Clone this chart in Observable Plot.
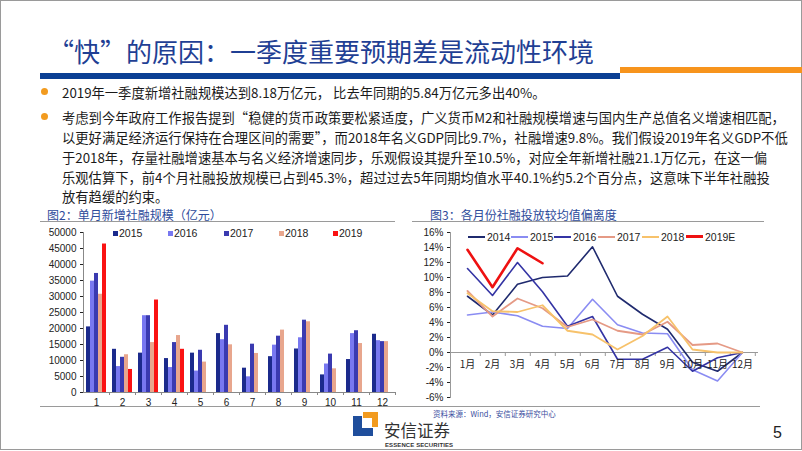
<!DOCTYPE html>
<html><head><meta charset="utf-8">
<script src="https://cdn.jsdelivr.net/npm/d3@7"></script>
<script src="https://cdn.jsdelivr.net/npm/@observablehq/plot@0.6"></script>
<style>
html,body{margin:0;padding:0;background:#fff;}
#slide{position:relative;width:802px;height:451px;overflow:hidden;font-family:"Noto Sans CJK SC","Noto Sans",sans-serif;background:#fff;}
.abs{position:absolute;white-space:nowrap;}
.border{position:absolute;left:0;top:0;width:800px;height:448px;border:1px solid #9a9a9a;}
.body{font-size:13.3px;color:#1a1a1a;line-height:15px;left:62px;}
.dot{position:absolute;width:7px;height:7px;border-radius:50%;background:#f29b1f;left:41px;}
.ftitle{font-size:12px;color:#2d4b9b;line-height:13px;}
.leg{font-family:"Liberation Sans",Arial,sans-serif;font-size:10.5px;color:#222;line-height:12px;}
.sq{position:absolute;width:5px;height:5px;}
.ln{position:absolute;height:2px;width:17px;}
</style></head>
<body>
<div id="slide">
  <div class="border"></div>
  <div class="abs" style="left:48px;top:33px;font-size:26px;line-height:36px;color:#1f3f94;">“快”的原因：一季度重要预期差是流动性环境</div>
  <div class="abs" style="left:40px;top:73px;width:580px;height:6px;background:#0b3f94;"></div>
  <div class="abs" style="left:620px;top:67px;width:182px;height:6px;background:#f7941d;"></div>

  <div class="dot" style="top:88px;"></div>
  <div class="abs body" style="top:84.5px;">2019年一季度新增社融规模达到8.18万亿元，  比去年同期的5.84万亿元多出40%。</div>
  <div class="dot" style="top:113px;"></div>
  <div class="abs body" style="top:109.5px;">考虑到今年政府工作报告提到“稳健的货币政策要松紧适度，广义货币M2和社融规模增速与国内生产总值名义增速相匹配，</div>
  <div class="abs body" style="top:129.5px;">以更好满足经济运行保持在合理区间的需要”，而2018年名义GDP同比9.7%，社融增速9.8%。我们假设2019年名义GDP不低</div>
  <div class="abs body" style="top:149.5px;">于2018年，存量社融增速基本与名义经济增速同步，乐观假设其提升至10.5%，对应全年新增社融21.1万亿元，在这一偏</div>
  <div class="abs body" style="top:169.5px;">乐观估算下，前4个月社融投放规模已占到45.3%，超过过去5年同期均值水平40.1%约5.2个百分点，这意味下半年社融投</div>
  <div class="abs body" style="top:188.5px;">放有趋缓的约束。</div>

  <div class="abs ftitle" style="left:47px;top:208px;">图2：单月新增社融规模（亿元）</div>
  <div class="abs" style="left:40px;top:221px;width:355px;height:1px;background:#9a9a9a;"></div>
  <div class="abs ftitle" style="left:430px;top:208px;">图3：各月份社融投放较均值偏离度</div>
  <div class="abs" style="left:412px;top:221px;width:352px;height:1px;background:#9a9a9a;"></div>

  <div id="chart1" class="abs" style="left:40px;top:222px;"></div>
  <div id="chart2" class="abs" style="left:400px;top:222px;"></div>
  <div id="leg1"></div>
  <div id="leg2"></div>

  <div class="abs" style="left:40px;top:406px;width:720px;height:1px;background:#9a9a9a;"></div>
  <div class="abs" style="left:353px;top:416px;width:9px;height:20px;background:#1f4e9c;"></div>
  <div class="abs" style="left:353px;top:428px;width:20px;height:8px;background:#1f4e9c;"></div>
  <div class="abs" style="left:363px;top:412px;width:15px;height:6px;background:#f29b1f;"></div>
  <div class="abs" style="left:372px;top:412px;width:6px;height:15px;background:#f29b1f;"></div>
  <div class="abs" style="left:384px;top:422.5px;font-size:16.5px;line-height:15px;color:#333;">安信证券</div>
  <div class="abs" style="left:385px;top:441.5px;font-family:'Liberation Sans',Arial,sans-serif;font-size:6px;line-height:7px;color:#333;font-weight:bold;letter-spacing:0.1px;">ESSENCE SECURITIES</div>
  <div class="abs" style="left:433px;top:408.5px;font-size:7.5px;line-height:9px;color:#3a4ea0;">资料来源：Wind，安信证券研究中心</div>
  <div class="abs" style="left:773px;top:423px;font-family:'Liberation Sans',Arial,sans-serif;font-size:16px;line-height:20px;color:#222;">5</div>
</div>
<script>
// ---- Chart 1: monthly new social financing (100 million yuan)
const months = ["1","2","3","4","5","6","7","8","9","10","11","12"];
const barYears = ["2015","2016","2017","2018","2019"];
const bars2015 = [20500, 13500, 12300, 10600, 12300, 18400, 7600, 11200, 13600, 5500, 10300, 18200];
const bars2016 = [34800, 8100, 24000, 7800, 6700, 16500, 4900, 14800, 17100, 8900, 18400, 16200];
const bars2017 = [37200, 11000, 24000, 15600, 13200, 21000, 15100, 17600, 22600, 12000, 19300, 15900];
const bars2018 = [30700, 11800, 15600, 17800, 9500, 14900, 12200, 19500, 22100, 7400, 15300, 15900];
const bars2019 = [46400, 7200, 28900, 13500];
const barColors = ["#1b2a8c", "#7878f0", "#3a3ab0", "#e8a68d", "#fa1212"];
const yTicks1 = [0, 5000, 10000, 15000, 20000, 25000, 30000, 35000, 40000, 45000, 50000];

// ---- Chart 2: deviation from mean (%)
const monthLabels = ["1月","2月","3月","4月","5月","6月","7月","8月","9月","10月","11月","12月"];
const lineNames = ["2014","2015","2016","2017","2018","2019E"];
const line2014 = [7.5, 5.0, 9.1, 10.0, 10.2, 14.1, 7.5, 5.1, 3.1, -1.3, -2.5, 0];
const line2015 = [5.0, 5.4, 4.9, 3.5, 3.2, 7.1, 3.7, 2.6, 2.5, -2.3, -3.8, 0];
const line2016 = [11.2, 7.6, 12.0, 8.1, 3.5, 4.8, -0.9, -0.9, 0.7, -2.5, -0.7, 0];
const line2017 = [8.2, 4.8, 7.2, 5.9, 3.4, 4.4, 2.9, 2.4, 4.1, 1.0, 1.2, 0];
const line2018 = [7.9, 5.5, 5.4, 6.3, 2.9, 2.4, 0.4, 2.2, 4.8, 0.4, 0.0, 0];
const line2019E = [13.7, 8.7, 13.9, 11.9];
const lineColors = ["#1f2a6e", "#8a8cf2", "#3434a4", "#e59a85", "#f7c26b", "#ee1111"];
const lineWidths = [1.6, 1.6, 1.6, 1.8, 1.8, 2.6];
const yTicks2 = [-6, -4, -2, 0, 2, 4, 6, 8, 10, 12, 14, 16];

const axisStyle = {fontFamily: "'Liberation Sans', Arial, sans-serif", fontSize: "10px", color: "#222", background: "transparent", overflow: "visible"};

// build chart 1
const barSeries = [bars2015, bars2016, bars2017, bars2018, bars2019];
const barData = [];
barSeries.forEach((vals, k) => vals.forEach((v, i) => barData.push({month: months[i], year: barYears[k], k, value: v})));
const barMarks = barYears.map((yr, k) => Plot.barY(barData.filter(d => d.year === yr), {
  x: "month", y: "value", fill: barColors[k], insetLeft: 4 * k, insetRight: 4 * (barYears.length - 1 - k)
}));
const chart1 = Plot.plot({
  width: 360, height: 190, marginLeft: 43, marginRight: 4, marginTop: 10, marginBottom: 20,
  style: axisStyle,
  x: {type: "band", domain: months, paddingInner: 0.23, paddingOuter: 0.115, label: null},
  y: {domain: [0, 50000], label: null},
  marks: [
    ...barMarks,
    Plot.ruleY([0], {stroke: "#888"}),
    Plot.frame({anchor: "left", stroke: "#888"}),
    Plot.axisY({ticks: yTicks1, tickSize: 3, tickPadding: 4, tickFormat: d => String(d), label: null}),
    Plot.axisX({tickSize: 0, tickPadding: 6, label: null}),
    Plot.axisX({tickSize: 3, tickFormat: () => "", dx: 13, label: null, stroke: "#888"})
  ]
});
document.getElementById("chart1").appendChild(chart1);

// build chart 2
const lineSeries = [line2014, line2015, line2016, line2017, line2018, line2019E];
const lineMarks = lineSeries.map((vals, k) => Plot.lineY(vals.map((v, i) => ({month: monthLabels[i], value: v})), {
  x: "month", y: "value", stroke: lineColors[k], strokeWidth: lineWidths[k]
}));
const chart2 = Plot.plot({
  width: 380, height: 185, marginLeft: 50, marginRight: 22, marginTop: 10, marginBottom: 10,
  style: axisStyle,
  x: {type: "point", domain: monthLabels, padding: 0.5, axis: null},
  y: {domain: [-6, 16], label: null},
  marks: [
    Plot.ruleY([0], {stroke: "#999"}),
    Plot.frame({anchor: "left", stroke: "#999"}),
    Plot.ruleX(monthLabels, {x: d => d, y1: 0, y2: -6, dx: 12.8, insetBottom: 41, stroke: "#999"}),
    Plot.axisY({ticks: yTicks2, tickSize: 3, tickPadding: 4, tickFormat: d => d + "%", label: null}),
    ...lineMarks,
    Plot.text(monthLabels, {x: d => d, y: 0, dy: 12, text: d => d, fontFamily: "'Noto Sans CJK SC', sans-serif"})
  ]
});
document.getElementById("chart2").appendChild(chart2);

// legends
const leg1 = document.getElementById("leg1");
const leg1X = [113, 168, 224, 279, 333];
barYears.forEach((yr, k) => {
  leg1.insertAdjacentHTML("beforeend",
    `<div class="sq" style="left:${leg1X[k]}px;top:231px;background:${barColors[k]}"></div>` +
    `<div class="abs leg" style="left:${leg1X[k] + 6}px;top:227px;">${yr}</div>`);
});
const leg2 = document.getElementById("leg2");
const leg2X = [468, 511, 554, 598, 642, 686];
lineNames.forEach((nm, k) => {
  leg2.insertAdjacentHTML("beforeend",
    `<div class="ln" style="left:${leg2X[k]}px;top:${k === 5 ? 235 : 236}px;height:${k === 5 ? 3 : 2}px;background:${lineColors[k]}"></div>` +
    `<div class="abs leg" style="left:${leg2X[k] + 19}px;top:231px;">${nm}</div>`);
});
</script>
</body></html>
